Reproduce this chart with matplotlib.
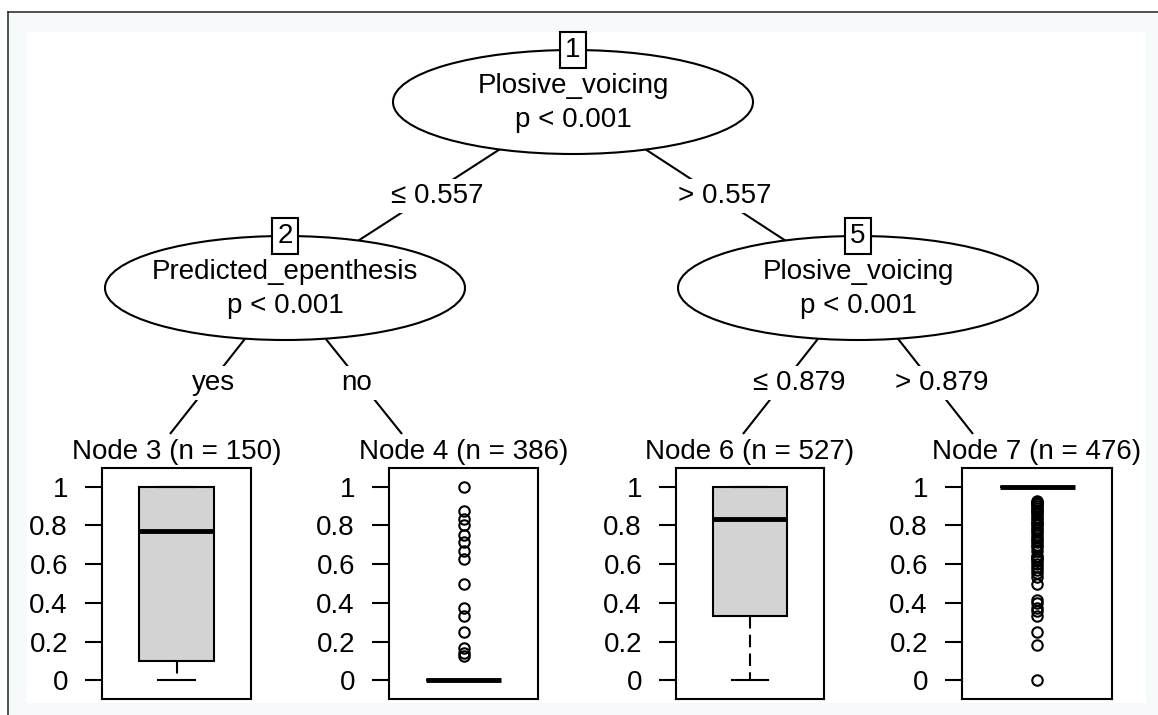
import matplotlib
matplotlib.use("Agg")
import matplotlib.pyplot as plt
from matplotlib.patches import Ellipse, Rectangle

plt.rcParams['font.family'] = ['Liberation Sans', 'DejaVu Sans']

# ---------------- data ----------------
inner_ids = [1, 2, 5]
inner_vars = ["Plosive_voicing", "Predicted_epenthesis", "Plosive_voicing"]
inner_pvals = ["p < 0.001", "p < 0.001", "p < 0.001"]
edge_labels = ["\u2264 0.557", "> 0.557", "yes", "no", "\u2264 0.879", "> 0.879"]

terminal_ids = [3, 4, 6, 7]
terminal_n = [150, 386, 527, 476]
box_q1 = [0.10, 0.0, 0.333, 1.0]
box_med = [0.77, 0.0, 0.833, 1.0]
box_q3 = [1.0, 0.0, 1.0, 1.0]
box_whislo = [0.0, 0.0, 0.0, 1.0]
box_whishi = [1.0, 0.0, 1.0, 1.0]
fliers_node3 = []
fliers_node4 = [1.0, 0.875, 0.833, 0.8, 0.75, 0.714, 0.667, 0.625, 0.5,
                0.375, 0.333, 0.25, 0.167, 0.143, 0.125]
fliers_node6 = []
fliers_node7 = [0.0, 0.182, 0.25, 0.333, 0.357, 0.375, 0.4, 0.417, 0.5,
                0.533, 0.556, 0.571, 0.583, 0.6, 0.615, 0.625, 0.636, 0.643,
                0.667, 0.688, 0.7, 0.714, 0.727, 0.733, 0.75, 0.765, 0.778,
                0.786, 0.8, 0.812, 0.818, 0.833, 0.846, 0.857, 0.867, 0.875,
                0.882, 0.889, 0.9, 0.909, 0.917, 0.923, 0.929]
all_fliers = [fliers_node3, fliers_node4, fliers_node6, fliers_node7]
y_ticks = [0, 0.2, 0.4, 0.6, 0.8, 1]
y_ticklabels = ["0", "0.2", "0.4", "0.6", "0.8", "1"]

# ---------------- layout (pixels) ----------------
W, H = 1158, 715
FS = 20
LW = 1.5
inner_xy = [(573, 102), (285, 288), (858, 288)]
ell_w, ell_h = 360, 104
# edges: (parent index, child point, label position)
edges = [
    (0, inner_xy[1], (437, 196)),
    (0, inner_xy[2], (725, 196)),
    (1, (170, 434), (214, 383)),
    (1, (402, 434), (357, 383)),
    (2, (743, 434), (799, 383)),
    (2, (973, 434), (942, 383)),
]
panels_px = [(102, 468, 251, 699), (389, 468, 538, 699),
             (676, 468, 824, 699), (962, 468, 1112, 699)]

fig = plt.figure(figsize=(W / 100, H / 100), dpi=100)
fig.patch.set_facecolor("white")
bg = fig.add_axes([0, 0, 1, 1])
bg.set_xlim(0, W)
bg.set_ylim(H, 0)
bg.axis("off")

# frame / background
bg.add_patch(Rectangle((8, 12), W - 8, H - 12, facecolor="#f6fafb", edgecolor="none", zorder=0))
bg.add_patch(Rectangle((27, 32), 1146 - 27, 703 - 32, facecolor="white", edgecolor="none", zorder=0.5))
bg.plot([8, W], [12, 12], color="#333333", lw=1.2, zorder=1)
bg.plot([8, 8], [12, H], color="#333333", lw=1.2, zorder=1)

# edges
for (pi, child, lab_xy), lab in zip(edges, edge_labels):
    px, py = inner_xy[pi]
    bg.plot([px, child[0]], [py, child[1]], color="black", lw=LW, zorder=2,
            solid_capstyle="butt")
    bg.text(lab_xy[0], lab_xy[1], lab, fontsize=FS, ha="center", va="center",
            zorder=4, bbox=dict(facecolor="white", edgecolor="none", pad=3))

# inner nodes
for (x, y), nid, var, pv in zip(inner_xy, inner_ids, inner_vars, inner_pvals):
    bg.add_patch(Ellipse((x, y), ell_w, ell_h, facecolor="white", edgecolor="black",
                         lw=LW, zorder=3))
    bg.text(x, y - 16, var, fontsize=FS, ha="center", va="center", zorder=4)
    bg.text(x, y + 18, pv, fontsize=FS, ha="center", va="center", zorder=4)
    bg.text(x, y - ell_h / 2, str(nid), fontsize=FS, ha="center", va="center", zorder=5,
            bbox=dict(facecolor="white", edgecolor="black", lw=LW,
                      boxstyle="square,pad=0.18"))

# terminal boxplots
for i, (x0, y0, x1, y1) in enumerate(panels_px):
    ax = fig.add_axes([x0 / W, 1 - y1 / H, (x1 - x0) / W, (y1 - y0) / H])
    ax.set_zorder(5)
    stats = [dict(med=box_med[i], q1=box_q1[i], q3=box_q3[i],
                  whislo=box_whislo[i], whishi=box_whishi[i],
                  fliers=all_fliers[i])]
    ax.bxp(stats, positions=[0.5], widths=[0.5], capwidths=[0.25],
           patch_artist=True, showfliers=True,
           boxprops=dict(facecolor="lightgray", edgecolor="black", lw=LW),
           medianprops=dict(color="black", lw=3.5, solid_capstyle="butt"),
           whiskerprops=dict(color="black", lw=LW, linestyle=(0, (6, 3))),
           capprops=dict(color="black", lw=LW),
           flierprops=dict(marker="o", markerfacecolor="none",
                           markeredgecolor="black", markersize=7.5,
                           markeredgewidth=1.5, linestyle="none"))
    ax.set_xlim(0, 1)
    ax.set_ylim(-0.097, 1.097)
    ax.set_xticks([])
    ax.set_yticks(y_ticks)
    ax.set_yticklabels(y_ticklabels)
    ax.tick_params(axis="y", length=12.5, width=LW, pad=12, labelsize=FS)
    for s in ax.spines.values():
        s.set_linewidth(LW)
    ax.set_facecolor("white")
    cx = (x0 + x1) / 2
    bg.text(cx, 452, f"Node {terminal_ids[i]} (n = {terminal_n[i]})", fontsize=FS,
            ha="center", va="center", zorder=4)

fig.savefig("out.png", dpi=100)
